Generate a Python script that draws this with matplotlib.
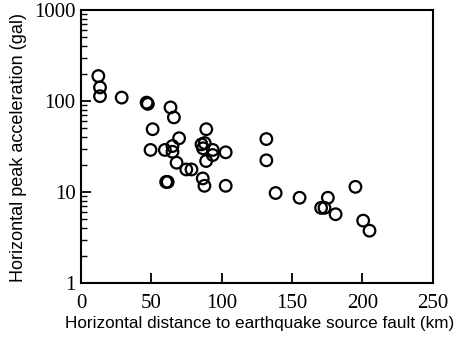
# distance vs peak acceleration scatter, log y axis

import numpy as np
import matplotlib
matplotlib.use("Agg")
import matplotlib.pyplot as plt
from matplotlib.ticker import FixedLocator, FixedFormatter, LogLocator, NullFormatter

distance_km = [12.3, 13.5, 13.5, 28.9, 46.6, 47.5, 63.6, 66.0, 50.9, 89.0,
               69.7, 49.4, 59.6, 65.0, 65.0, 85.6, 87.9, 86.7, 93.6, 93.6,
               102.8, 88.9, 67.9, 74.8, 78.5, 60.5, 61.6, 86.5, 87.7, 102.8,
               131.7, 131.7, 138.3, 155.3, 170.6, 173.0, 175.4, 180.9, 195.0,
               200.5, 205.0]
accel_gal = [188, 141, 113, 109, 96, 93, 85, 66, 49, 49,
             39, 29, 29, 32, 27.7, 33.4, 34.5, 30.2, 29, 25.5,
             27.3, 21.9, 21, 17.7, 17.7, 12.9, 12.9, 14.1, 11.7, 11.7,
             38.2, 22.3, 9.75, 8.65, 6.7, 6.7, 8.65, 5.7, 11.4,
             4.85, 3.76]

x_ticks = [0, 50, 100, 150, 200, 250]
y_ticks = [1, 10, 100, 1000]
y_tick_labels = ["1", "10", "100", "1000"]

fig = plt.figure(figsize=(4.59, 3.41), dpi=100)
ax = fig.add_axes([0.1765, 0.170, 0.7665, 0.8007])

ax.scatter(distance_km, accel_gal, s=70, facecolors="none", edgecolors="black",
           linewidths=1.6, zorder=3)

ax.set_yscale("log")
ax.set_xlim(0, 250)
ax.set_ylim(1, 1000)

ax.xaxis.set_major_locator(FixedLocator(x_ticks))
ax.yaxis.set_major_locator(FixedLocator(y_ticks))
ax.yaxis.set_major_formatter(FixedFormatter(y_tick_labels))
ax.yaxis.set_minor_locator(LogLocator(base=10, subs=np.arange(2, 10)))
ax.yaxis.set_minor_formatter(NullFormatter())

ax.tick_params(axis="both", which="major", direction="in", length=7, width=1.3,
               labelsize=15, top=False, right=False)
ax.tick_params(axis="y", which="minor", direction="in", length=4, width=1.0)
ax.tick_params(axis="x", pad=8)
ax.tick_params(axis="y", pad=4)
for lab in ax.get_xticklabels() + ax.get_yticklabels():
    lab.set_fontfamily("Liberation Serif")

for sp in ax.spines.values():
    sp.set_linewidth(1.5)

ax.set_xlabel("Horizontal distance to earthquake source fault (km)",
              fontfamily="Liberation Sans", fontsize=12.3)
ax.set_ylabel("Horizontal peak acceleration (gal)",
              fontfamily="Liberation Sans", fontsize=13)
ax.xaxis.set_label_coords(0.508, -0.121)
ax.yaxis.set_label_coords(-0.153, 0.498)

fig.savefig("out.png", dpi=100)
